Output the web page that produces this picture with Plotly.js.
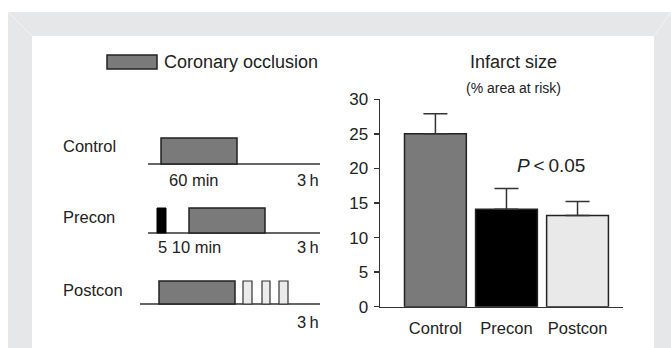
<!DOCTYPE html>
<html>
<head>
<meta charset="utf-8">
<script src="https://cdn.plot.ly/plotly-3.0.1.min.js"></script>
<style>html,body{margin:0;padding:0;background:#fff;}#chart{width:671px;height:348px;}</style>
</head>
<body>
<div id="chart"></div>
<script>
// ---- Data: infarct size bar chart ----
var groups = ['Control', 'Precon', 'Postcon'];
var infarctSize = [25.0, 14.1, 13.2];
var infarctSE = [2.9, 3.0, 2.0];
var barColors = ['#7a7a7a', '#000000', '#e9e9e9'];
var yTicks = [0, 5, 10, 15, 20, 25, 30];

// ---- Data: protocol schematic (schematic positions along each timeline) ----
var rowLabels = ['Control', 'Precon', 'Postcon'];
var rowBaseline = [164, 233, 304];
var rowTop = [138, 208, 281];
var rowLineStart = [148, 148, 140];
var rowLineEnd = [320, 320, 320];
var occlusionStart = [161, 189, 159];
var occlusionEnd = [237, 265, 235];
var preconPulseStart = [157];
var preconPulseEnd = [166];
var postconPulseStart = [243, 262, 279];
var postconPulseEnd = [252, 270, 288];
var timeLabelsLeft = ['60 min', '5 10 min', ''];
var timeLabelLeftX = [167, 156, 0];
var endLabel = '3\u2009h';

var W = 671, H = 348;
function px(x) { return x / W; }
function py(y) { return 1 - y / H; }
var txt = '#222222';
var font = 'Liberation Sans, Arial, Helvetica, sans-serif';

var shapes = [];
// background frame
shapes.push({type:'rect', xref:'paper', yref:'paper', x0:px(8), x1:1, y0:0, y1:py(12), fillcolor:'#e6e7e9', line:{width:0}, layer:'below'});
shapes.push({type:'rect', xref:'paper', yref:'paper', x0:px(32), x1:px(654), y0:0, y1:py(36), fillcolor:'#ffffff', line:{width:0}, layer:'below'});
// bevel hints
shapes.push({type:'line', xref:'paper', yref:'paper', x0:px(8), y0:py(12), x1:px(32), y1:py(36), line:{color:'#f2f2f3', width:1}, layer:'below'});
shapes.push({type:'line', xref:'paper', yref:'paper', x0:px(671), y0:py(12), x1:px(654), y1:py(36), line:{color:'#f2f2f3', width:1}, layer:'below'});

// legend swatch
shapes.push({type:'rect', xref:'x2', yref:'y2', x0:107, x1:157, y0:55, y1:69, fillcolor:'#7a7a7a', line:{color:'#222', width:1.5}});

for (var i = 0; i < rowLabels.length; i++) {
  shapes.push({type:'line', xref:'x2', yref:'y2', x0:rowLineStart[i], x1:rowLineEnd[i], y0:rowBaseline[i], y1:rowBaseline[i], line:{color:'#333', width:1.5}});
  shapes.push({type:'rect', xref:'x2', yref:'y2', x0:occlusionStart[i], x1:occlusionEnd[i], y0:rowTop[i], y1:rowBaseline[i], fillcolor:'#7a7a7a', line:{color:'#222', width:1.5}});
}
for (var j = 0; j < preconPulseStart.length; j++) {
  shapes.push({type:'rect', xref:'x2', yref:'y2', x0:preconPulseStart[j], x1:preconPulseEnd[j], y0:rowTop[1], y1:rowBaseline[1], fillcolor:'#000', line:{color:'#000', width:1}});
}
for (var k = 0; k < postconPulseStart.length; k++) {
  shapes.push({type:'rect', xref:'x2', yref:'y2', x0:postconPulseStart[k], x1:postconPulseEnd[k], y0:rowTop[2], y1:rowBaseline[2], fillcolor:'#ebebeb', line:{color:'#333', width:1.2}});
}

var ann = [];
function addText(t, x, y, size, anchor, extra) {
  var a = {text:t, xref:'paper', yref:'paper', x:px(x), y:py(y), xanchor:anchor, yanchor:'middle', showarrow:false, font:{family:font, size:size, color:txt}};
  if (extra) for (var key in extra) a[key] = extra[key];
  ann.push(a);
}
addText('Coronary occlusion', 162, 62, 18, 'left');
addText('Infarct size', 513, 62, 18, 'center');
addText('(% area at risk)', 513, 88, 14, 'center');
addText('<i>P</i>\u2009<\u20090.05', 551, 165, 19, 'center');
for (var r = 0; r < rowLabels.length; r++) {
  addText(rowLabels[r], 61, [146, 217, 290][r], 16.5, 'left');
  if (timeLabelsLeft[r]) addText(timeLabelsLeft[r], timeLabelLeftX[r], [180, 247, 0][r], 16.5, 'left');
  addText(endLabel, 321, [180, 247, 322][r], 16.5, 'right');
}

var traces = [
  {
    type:'bar', x:groups, y:infarctSize, width:0.87,
    marker:{color:barColors, line:{color:'#222', width:1.5}},
    error_y:{type:'data', symmetric:false, array:infarctSE, arrayminus:[0,0,0], color:'#333', thickness:1.5, width:12},
    hoverinfo:'none', showlegend:false, xaxis:'x', yaxis:'y'
  },
  {type:'scatter', x:[], y:[], xaxis:'x2', yaxis:'y2', showlegend:false, hoverinfo:'none'}
];

var layout = {
  width:W, height:H,
  margin:{l:0, r:0, t:0, b:0},
  paper_bgcolor:'#ffffff', plot_bgcolor:'rgba(0,0,0,0)',
  showlegend:false,
  font:{family:font, color:txt},
  xaxis:{
    domain:[px(380), px(623)], type:'category', range:[-0.78, 2.64],
    showline:true, linecolor:'#333', linewidth:1.5, ticks:'', showgrid:false, zeroline:false,
    tickfont:{family:font, size:16.5, color:txt}, ticklabelstandoff:6, fixedrange:true
  },
  yaxis:{
    domain:[py(306.7), py(99.3)], range:[0, 30], tickvals:yTicks, ticktext:yTicks.map(String),
    showline:true, linecolor:'#333', linewidth:1.5, ticks:'outside', ticklen:5, tickwidth:1.5, tickcolor:'#333',
    showgrid:false, zeroline:false, tickfont:{family:font, size:17, color:txt}, ticklabelstandoff:2, fixedrange:true
  },
  xaxis2:{domain:[0,1], range:[0, W], visible:false, fixedrange:true, anchor:'y2'},
  yaxis2:{domain:[0,1], range:[H, 0], visible:false, fixedrange:true, anchor:'x2'},
  shapes:shapes,
  annotations:ann
};

Plotly.newPlot('chart', traces, layout, {displayModeBar:false, staticPlot:true});
</script>
</body>
</html>
